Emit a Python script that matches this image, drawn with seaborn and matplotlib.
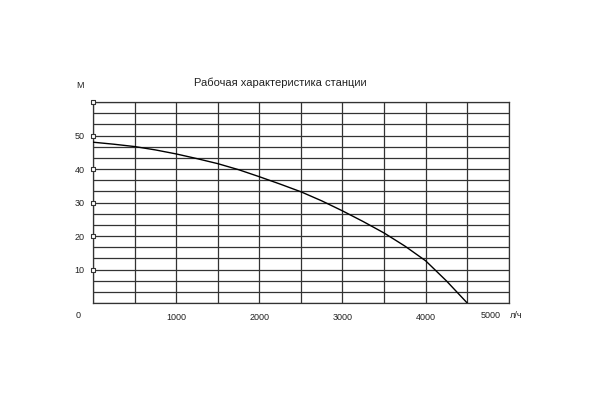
import numpy as np
import pandas as pd
import matplotlib
matplotlib.use("Agg")
import matplotlib.pyplot as plt
import seaborn as sns

# pump curve
flow = [0, 250, 500, 750, 1000, 1250, 1500, 1750, 2000, 2250,
        2500, 2750, 3000, 3250, 3500, 3750, 4000, 4250, 4500]  # л/ч
head = [48.0, 47.4, 46.7, 45.7, 44.5, 43.1, 41.6, 39.8, 37.7, 35.5,
        33.2, 30.5, 27.5, 24.3, 20.9, 17.0, 12.6, 6.6, 0.0]  # м

x_ticks = [1000, 2000, 3000, 4000]
y_ticks = [10, 20, 30, 40, 50]
y_marks = [10, 20, 30, 40, 50, 60]

title = "Рабочая характеристика станции"

sns.set_style("white")
plt.rcParams['font.family'] = ['Liberation Sans', 'DejaVu Sans']

df = pd.DataFrame({'flow': flow, 'head': head})

fig = plt.figure(figsize=(6, 4), dpi=100)
ax = fig.add_axes([0.155, 0.2425, 0.693, 0.5025])

grid_c = '#333333'
# grid: every 500 л/ч and every 10/3 м
for gx in np.arange(0, 5001, 500):
    ax.axvline(gx, color=grid_c, lw=0.9, zorder=1)
for gy in np.linspace(0, 60, 19):
    ax.axhline(gy, color=grid_c, lw=0.9, zorder=1)

sns.lineplot(data=df, x='flow', y='head', ax=ax, color='black', lw=1.0, zorder=3)

ax.set_xlim(0, 5000)
ax.set_ylim(0, 60)
for s in ax.spines.values():
    s.set_color(grid_c)
    s.set_linewidth(0.9)

ax.set_xticks(x_ticks)
ax.set_xticklabels([str(v) for v in x_ticks])
ax.set_yticks(y_ticks)
ax.set_yticklabels([str(v) for v in y_ticks])
ax.tick_params(axis='both', length=0, labelsize=6.5, colors='#222222')
ax.tick_params(axis='x', pad=7.5)
ax.tick_params(axis='y', pad=6)
ax.set_xlabel('')
ax.set_ylabel('')

# small open markers on the left axis
ax.scatter([0] * len(y_marks), y_marks, marker='s', s=9, facecolor='white',
           edgecolor=grid_c, linewidths=0.8, zorder=5, clip_on=False)

fig.text(78 / 600, 1 - 316 / 400, '0', fontsize=6.5, ha='center', va='center', color='#222222')
fig.text(491 / 600, 1 - 316 / 400, '5000', fontsize=6.5, ha='center', va='center', color='#222222')
fig.text(516 / 600, 1 - 316 / 400, 'л/ч', fontsize=6.5, ha='center', va='center', color='#222222')
fig.text(80 / 600, 1 - 86 / 400, 'М', fontsize=6.5, ha='center', va='center', color='#222222')
fig.text(280 / 600, 1 - 83 / 400, title, fontsize=8, ha='center', va='center', color='#222222')

fig.savefig('out.png', dpi=100)
